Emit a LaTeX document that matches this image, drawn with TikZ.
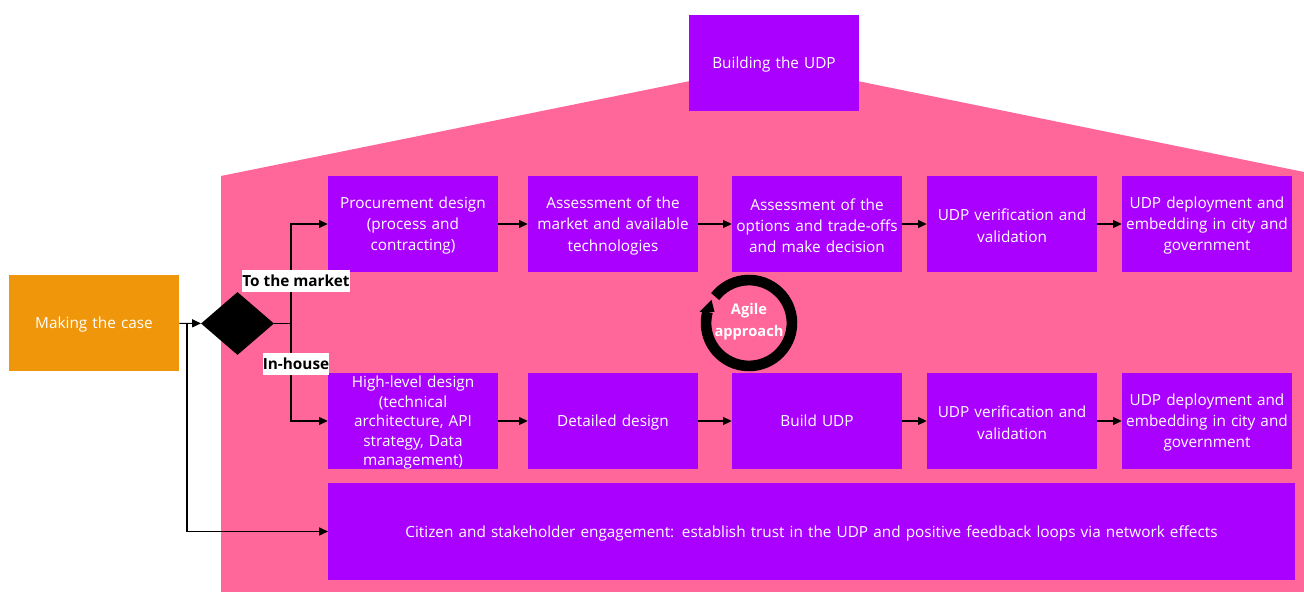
\documentclass[tikz,border=0pt]{standalone}
\usepackage{fontspec}
\setmainfont{Open Sans}
\usepackage{tikz}
\usetikzlibrary{shapes.geometric}
\usetikzlibrary{arrows.meta}
\usetikzlibrary{positioning}
\usetikzlibrary{calc}
\definecolor{housepink}{HTML}{FF6699}
\definecolor{boxpurple}{HTML}{AA00FF}
\definecolor{caseorange}{HTML}{F0960A}
\tikzstyle{stage}=[
        rectangle,
        fill=boxpurple,
        text=white,
        minimum width=127.5pt,
        minimum height=72pt,
        inner sep=0pt,
        text width=127pt,
        align=center,
        execute at end node={\endgraf\vspace{-2.5pt}},
        font=\fontsize{11.5}{16}\selectfont
]
\tikzstyle{start}=[stage,fill=caseorange]
\tikzstyle{choice}=[diamond,fill=black,minimum width=54.75pt,minimum height=47.25pt,inner sep=0pt]
\tikzstyle{branch}=[fill=white,text=black,inner sep=0pt,minimum height=16pt,font=\fontsize{11.5}{13}\selectfont\bfseries]
\tikzstyle{suite}=[->,>={Triangle[length=6.5pt,width=6pt]},line width=0.8pt,black]
\begin{document}
\begin{tikzpicture}[x=0.75pt,y=-0.75pt]
\useasboundingbox (0,0) rectangle (1304,592);
\fill[housepink] (221,592) -- (221,176) -- (774,64) -- (1304,172) -- (1304,592) -- cycle;
\node[stage] (build) at (774,63) {Building the UDP};
\node[start] (making) at (94,323) {Making the case};
\node[choice] (decision) at (237.5,323.5) {};
\coordinate (split) at (187,323);
\coordinate (fork) at (291,323.5);
%Market row
\node[stage] (proc) at (413,224) {Procurement design\\(process and\\contracting)};
\node[stage] (assessa) at (613,224) {Assessment of the\\market and available\\technologies};
\node[stage] (assessb) at (817,224) {Assessment of the\\options and trade-offs\\and make decision};
\node[stage] (verifa) at (1012,224) {UDP verification and\\validation};
\node[stage] (deploya) at (1207,224) {UDP deployment and\\embedding in city and\\government};
%In-house row
\node[stage,font=\fontsize{11.5}{14.6}\selectfont] (high) at (413,421) {High-level design\\(technical\\architecture, API\\strategy, Data\\management)};
\node[stage] (detail) at (613,421) {Detailed design};
\node[stage] (buildudp) at (817,421) {Build UDP};
\node[stage] (verifb) at (1012,421) {UDP verification and\\validation};
\node[stage] (deployb) at (1207,421) {UDP deployment and\\embedding in city and\\government};
\node[stage,minimum width=725pt,minimum height=72.75pt,text width=715pt] (citizen) at (811.5,531.5) {Citizen and stakeholder engagement: establish trust in the UDP and positive feedback loops via network effects};
\node[text=white,align=center,font=\fontsize{11}{16.5}\selectfont\bfseries] (agile) at (749,322) {Agile\\approach};
%Drawing Edges
\draw[line width=8pt] ($(749,323)+(142:32.2pt)$) arc[start angle=142,end angle=-195,radius=32.2pt] coordinate (ringend);
\fill ($(ringend)+(-6pt,0pt)$) -- ($(ringend)+(5.2pt,0pt)$) -- ($(ringend)+(3pt,9pt)$) -- cycle;
\draw[suite] (making) -- (decision);
\draw[suite] (split) |- (citizen);
\draw[suite,-] (decision) -- (fork);
\draw[suite] (fork) |- (proc);
\draw[suite] (fork) |- (high);
\draw[suite] (proc) -- (assessa);
\draw[suite] (assessa) -- (assessb);
\draw[suite] (assessb) -- (verifa);
\draw[suite] (verifa) -- (deploya);
\draw[suite] (high) -- (detail);
\draw[suite] (detail) -- (buildudp);
\draw[suite] (buildudp) -- (verifb);
\draw[suite] (verifb) -- (deployb);
\node[branch] (market) at (296,281) {To the market};
\node[branch] (inhouse) at (296,364) {In-house};
\end{tikzpicture}
\end{document}
